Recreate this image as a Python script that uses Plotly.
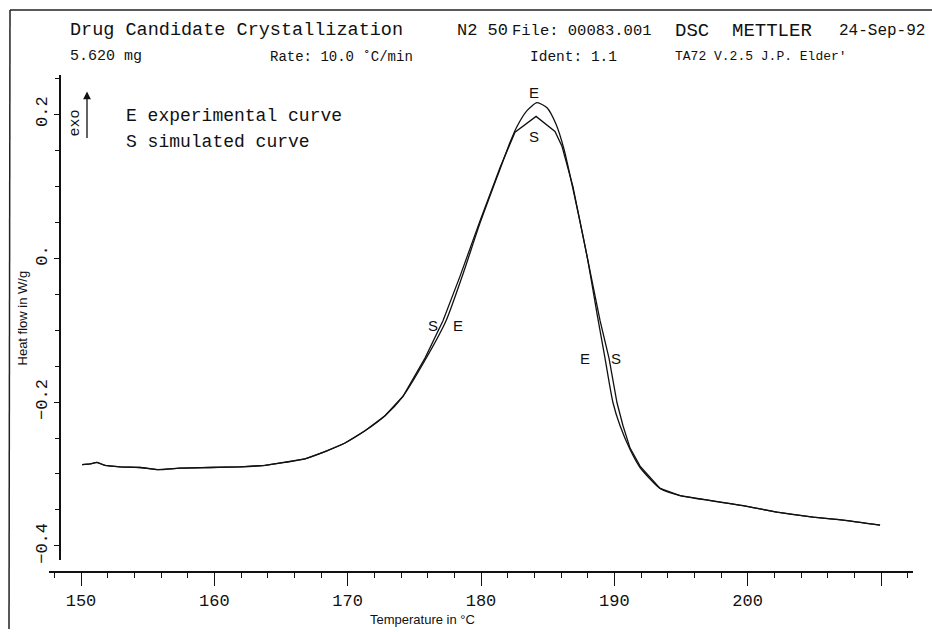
import plotly.graph_objects as go

# ---------------- data (°C, W/g) ----------------
temp_exp = [150.08, 150.68, 151.2, 151.8, 152.93, 154.43, 155.78, 157.43, 159.68, 161.93,
            163.8, 165.3, 166.8, 168.3, 169.8, 171.3, 172.8, 174.15, 175.8, 177.38,
            178.65, 179.93, 181.43, 182.18, 182.7, 183.45, 184.2, 184.95, 185.63, 186.23,
            186.9, 187.95, 188.7, 189.3, 189.9, 190.43, 191.18, 191.93, 193.43, 194.93,
            197.18, 199.65, 202.2, 204.9, 207.15, 209.93]
heat_exp = [-0.287, -0.286, -0.284, -0.288, -0.290, -0.291, -0.294, -0.292, -0.291, -0.290,
            -0.288, -0.284, -0.279, -0.269, -0.257, -0.240, -0.219, -0.192, -0.142, -0.087,
            -0.022, 0.049, 0.124, 0.161, 0.183, 0.205, 0.216, 0.209, 0.186, 0.151,
            0.096, 0.003, -0.077, -0.139, -0.201, -0.233, -0.266, -0.291, -0.320, -0.330,
            -0.337, -0.344, -0.353, -0.360, -0.364, -0.371]

temp_sim = [150.08, 150.68, 151.2, 151.8, 152.93, 154.43, 155.78, 157.43, 159.68, 161.93,
            163.8, 165.3, 166.8, 168.3, 169.8, 171.3, 172.8, 174.15, 175.8, 177.15,
            178.43, 179.93, 181.43, 182.55, 184.13, 185.55, 186.08, 186.9, 188.18, 188.93,
            189.6, 190.2, 190.65, 191.18, 191.93, 193.43, 194.93, 197.18, 199.65, 202.2,
            204.9, 207.15, 209.93]
heat_sim = [-0.287, -0.286, -0.284, -0.288, -0.290, -0.291, -0.294, -0.292, -0.291, -0.290,
            -0.288, -0.284, -0.279, -0.269, -0.257, -0.240, -0.219, -0.192, -0.139, -0.087,
            -0.025, 0.052, 0.126, 0.175, 0.197, 0.176, 0.155, 0.099, -0.017, -0.087,
            -0.139, -0.201, -0.233, -0.264, -0.289, -0.320, -0.330, -0.337, -0.344, -0.353,
            -0.360, -0.364, -0.371]

x_major = [150, 160, 170, 180, 190, 200, 210]
x_major_text = ["150", "160", "170", "180", "190", "200", ""]
y_major = [0.2, 0.0, -0.2, -0.4]
y_major_text = ["0.2", "0.", "\u22120.2", "\u22120.4"]

header_line1 = [("Drug Candidate Crystallization", 68, 18.5), ("N2 50", 455, 17),
                ("File: 00083.001", 510, 15.5), ("DSC  METTLER", 673, 19), ("24-Sep-92", 837, 16)]
header_line2 = [("5.620 mg", 68, 15), ("Rate: 10.0 \u02daC/min", 268, 14),
                ("Ident: 1.1", 528, 14.5), ("TA72 V.2.5 J.P. Elder'", 673, 13)]
legend_lines = ["E experimental curve", "S simulated curve"]

# curve label positions (data coordinates)
curve_labels = [("E", 184.0, 0.230), ("S", 184.0, 0.169), ("S", 176.4, -0.093),
                ("E", 178.3, -0.093), ("E", 187.8, -0.139), ("S", 190.1, -0.139)]

W, H = 932, 632
MONO = "Liberation Mono, DejaVu Sans Mono, monospace"
SANS = "Liberation Sans, Arial, sans-serif"

def px(x):
    return x / W

def py(y):
    return 1 - y / H

fig = go.Figure()
fig.add_trace(go.Scatter(x=temp_exp, y=heat_exp, mode="lines",
                         line=dict(color="#111", width=1.3, shape="spline", smoothing=0.6),
                         name="E", showlegend=False, hoverinfo="skip"))
fig.add_trace(go.Scatter(x=temp_sim, y=heat_sim, mode="lines",
                         line=dict(color="#111", width=1.3),
                         name="S", showlegend=False, hoverinfo="skip"))

annotations = []
for text, x0, size in header_line1:
    annotations.append(dict(text=text, x=px(x0), y=py(31), xref="paper", yref="paper",
                            xanchor="left", yanchor="middle", showarrow=False,
                            font=dict(family=MONO, size=size, color="#111")))
for text, x0, size in header_line2:
    annotations.append(dict(text=text, x=px(x0), y=py(57), xref="paper", yref="paper",
                            xanchor="left", yanchor="middle", showarrow=False,
                            font=dict(family=MONO, size=size, color="#111")))
for i, text in enumerate(legend_lines):
    annotations.append(dict(text=text, x=px(124), y=py(117 + 26 * i), xref="paper", yref="paper",
                            xanchor="left", yanchor="middle", showarrow=False,
                            font=dict(family=MONO, size=18, color="#111")))
for text, x0, y0 in curve_labels:
    annotations.append(dict(text=text, x=x0, y=y0, xref="x", yref="y", showarrow=False,
                            xanchor="center", yanchor="middle",
                            font=dict(family=SANS, size=15, color="#111")))
# exo marker
annotations.append(dict(text="exo", x=px(75), y=py(124), xref="paper", yref="paper",
                        textangle=-90, showarrow=False, xanchor="center", yanchor="middle",
                        font=dict(family=MONO, size=15, color="#111")))
annotations.append(dict(text="", x=px(87), y=py(92), xref="paper", yref="paper",
                        showarrow=True, ax=0, ay=48, arrowhead=2, arrowsize=1.2,
                        arrowwidth=1.3, arrowcolor="#111"))
# axis titles
annotations.append(dict(text="Heat flow in W/g", x=px(22), y=py(320), xref="paper", yref="paper",
                        textangle=-90, showarrow=False, xanchor="center", yanchor="middle",
                        font=dict(family=SANS, size=13, color="#111")))
annotations.append(dict(text="Temperature in \u00b0C", x=px(422), y=py(622), xref="paper",
                        yref="paper", showarrow=False, xanchor="center", yanchor="middle",
                        font=dict(family=SANS, size=13, color="#111")))

shapes = [
    dict(type="line", xref="paper", yref="paper", x0=px(10), y0=py(10), x1=px(932), y1=py(10),
         line=dict(color="#222", width=1.5)),
    dict(type="line", xref="paper", yref="paper", x0=px(10), y0=py(10), x1=px(9), y1=py(632),
         line=dict(color="#222", width=1.5)),
]

fig.update_layout(
    width=W, height=H,
    margin=dict(l=0, r=0, t=0, b=0),
    paper_bgcolor="white", plot_bgcolor="white",
    showlegend=False,
    annotations=annotations,
    shapes=shapes,
    xaxis=dict(domain=[49 / W, 913 / W], range=[147.6, 212.4], anchor="free",
               position=py(575), showline=True, linecolor="#111", linewidth=1.5,
               showgrid=False, zeroline=False,
               tickmode="array", tickvals=x_major, ticktext=x_major_text,
               ticks="outside", ticklen=13, tickwidth=1.3, tickcolor="#111",
               minor=dict(dtick=2, tick0=0, ticks="outside", ticklen=5, tickwidth=1.2,
                          tickcolor="#111", showgrid=False),
               tickfont=dict(family=MONO, size=17, color="#111")),
    yaxis=dict(domain=[py(563), py(75)], range=[-0.42, 0.255], anchor="free",
               position=px(60), showline=True, linecolor="#111", linewidth=1.5,
               showgrid=False, zeroline=False,
               tickmode="array", tickvals=y_major, ticktext=y_major_text,
               ticks="outside", ticklen=5, tickwidth=1.3, tickcolor="#111",
               minor=dict(dtick=0.05, tick0=0, ticks="outside", ticklen=4, tickwidth=1.2,
                          tickcolor="#111", showgrid=False),
               tickangle=-90,
               tickfont=dict(family=MONO, size=17, color="#111")),
)

fig.write_html("out.html")
